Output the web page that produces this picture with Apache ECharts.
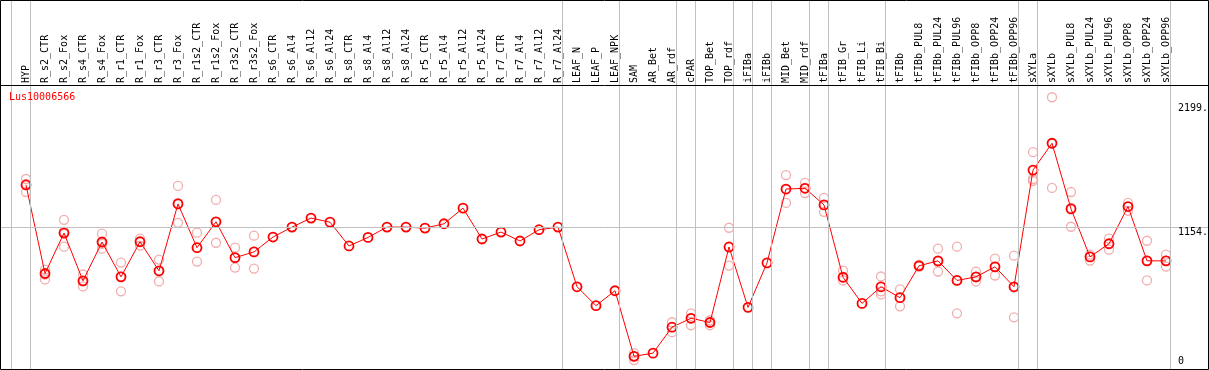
<!DOCTYPE html>
<html>
<head>
<meta charset="utf-8">
<script src="https://cdn.jsdelivr.net/npm/echarts@6/dist/echarts.min.js"></script>
<style>
html,body{margin:0;padding:0;background:#fff;}
#c{width:1209px;height:370px;}
</style>
</head>
<body>
<div id="c"></div>
<script>
const geneId = 'Lus10006566';
const categories = ['HYP','R_s2_CTR','R_s2_Fox','R_s4_CTR','R_s4_Fox','R_r1_CTR','R_r1_Fox','R_r3_CTR','R_r3_Fox','R_r1s2_CTR','R_r1s2_Fox','R_r3s2_CTR','R_r3s2_Fox','R_s6_CTR','R_s6_Al4','R_s6_Al12','R_s6_Al24','R_s8_CTR','R_s8_Al4','R_s8_Al12','R_s8_Al24','R_r5_CTR','R_r5_Al4','R_r5_Al12','R_r5_Al24','R_r7_CTR','R_r7_Al4','R_r7_Al12','R_r7_Al24','LEAF_N','LEAF_P','LEAF_NPK','SAM','AR_Bet','AR_rdf','cPAR','TOP_Bet','TOP_rdf','iFIBa','iFIBb','MID_Bet','MID_rdf','tFIBa','tFIB_Gr','tFIB_Li','tFIB_Bi','tFIBb','tFIBb_PUL8','tFIBb_PUL24','tFIBb_PUL96','tFIBb_OPP8','tFIBb_OPP24','tFIBb_OPP96','sXYLa','sXYLb','sXYLb_PUL8','sXYLb_PUL24','sXYLb_PUL96','sXYLb_OPP8','sXYLb_OPP24','sXYLb_OPP96'];
const means = [1492,778,1104,719,1032,751,1034,800,1339,986,1195,906,952,1072,1152,1225,1192,1000,1069,1152,1152,1144,1179,1305,1056,1112,1040,1131,1152,671,519,639,110,136,345,417,383,992,505,864,1459,1465,1331,748,537,671,583,840,880,722,751,832,671,1612,1828,1299,912,1018,1318,880,880];
const replicates = [
  [1540,1500,1435],[810,770,730],[1211,1115,994],[770,714,674],[1099,1018,978],
  [866,754,634],[1059,1034,1002],[890,794,714],[1484,1347,1187],[1107,986,874],
  [1371,1195,1026],[986,906,826],[1083,954,818],[],[],
  [],[],[],[],[],
  [],[],[],[],[],
  [],[],[],[],[],
  [],[],[136,112,80],[],[385,345,305],
  [457,417,361],[401,385,361],[1147,986,842],[],[],
  [1572,1459,1347],[1508,1468,1427],[1387,1331,1275],[802,746,722],[],
  [754,634,609],[650,585,513],[850,834],[978,874,794],[994,722,457],
  [794,746,714],[898,834,762],[922,666,425],[1756,1540,1524],[2199,1828,1468],
  [1435,1307,1155],[930,914,882],[1059,1018,970],[1347,1315,1283],[1042,882,722],
  [930,882,834]
];
const yTickValues = [2199, 1154, 0];
const yTickLabels = ['2199.', '1154.', '0'];
const referenceLine = 1154;
const separatorsAfter = [-1, 0, 28, 31, 34, 35, 37, 38, 39, 41, 42, 45, 52, 53, 60];

const FONT = 'DejaVu Sans Mono';
const chart = echarts.init(document.getElementById('c'), null, {renderer: 'canvas'});

const meanData = means.map((v, i) => [i, v]);
const repData = [];
replicates.forEach((arr, i) => arr.forEach(v => repData.push([i, v])));

const sepLines = separatorsAfter.map(i => ({xAxis: i + 0.24}));

const baseGraphic = [
  {type: 'rect', shape: {x: 0.5, y: 0.5, width: 1208, height: 369}, style: {fill: 'none', stroke: '#000', lineWidth: 1}, z: 100},
  {type: 'line', shape: {x1: 0, y1: 85.5, x2: 1209, y2: 85.5}, style: {stroke: '#000', lineWidth: 1}, z: 100},
  {type: 'text', x: 9, y: 97, style: {text: geneId, fill: '#ff0000', font: '10px "DejaVu Sans Mono"', verticalAlign: 'middle'}, z: 100}
];

const option = {
  animation: false,
  backgroundColor: '#fff',
  grid: [
    {left: 0, right: 0, top: 0, height: 372},
    {left: 16.5, right: 33.5, top: 84, height: 1}
  ],
  xAxis: [
    {type: 'value', gridIndex: 0, min: -26/19, max: (1209-26)/19, show: false},
    {type: 'category', gridIndex: 1, data: categories, position: 'top', boundaryGap: true,
     axisLine: {show: false}, axisTick: {show: false}, splitLine: {show: false},
     axisLabel: {interval: 0, rotate: 90, margin: 1, color: '#000', fontFamily: FONT, fontSize: 10}}
  ],
  yAxis: [
    {type: 'value', gridIndex: 0, min: 0, max: 372/0.1247, show: false},
    {type: 'value', gridIndex: 1, show: false}
  ],
  series: [
    {
      type: 'line', xAxisIndex: 0, yAxisIndex: 0, data: [], silent: true, z: 1,
      markLine: {silent: true, symbol: 'none', animation: false,
        label: {show: false},
        lineStyle: {color: '#c0c0c0', width: 1, type: 'solid'},
        data: sepLines.concat([{yAxis: referenceLine}])}
    },
    {
      type: 'scatter', xAxisIndex: 0, yAxisIndex: 0, data: repData, z: 2,
      symbol: 'circle', symbolSize: 9,
      itemStyle: {color: 'rgba(0,0,0,0)', borderColor: '#ee9a9a', borderWidth: 1.3}
    },
    {
      type: 'line', xAxisIndex: 0, yAxisIndex: 0, data: meanData, z: 3,
      symbol: 'circle', symbolSize: 9, showAllSymbol: true,
      lineStyle: {color: '#ff0000', width: 1},
      itemStyle: {color: 'rgba(0,0,0,0)', borderColor: '#ff0000', borderWidth: 1.8}
    }
  ],
  graphic: baseGraphic
};
chart.setOption(option);

// y tick labels placed through the value axis scale
const labelOffsets = [6, 1, -14];
const tickGraphics = yTickValues.map((v, k) => {
  const py = chart.convertToPixel({yAxisIndex: 0}, v);
  return {type: 'text', x: 1178, y: py + labelOffsets[k],
    style: {text: yTickLabels[k], fill: '#000', font: '10px "DejaVu Sans Mono"', verticalAlign: 'top'}, z: 100};
});
chart.setOption({graphic: baseGraphic.concat(tickGraphics)});
</script>
</body>
</html>
